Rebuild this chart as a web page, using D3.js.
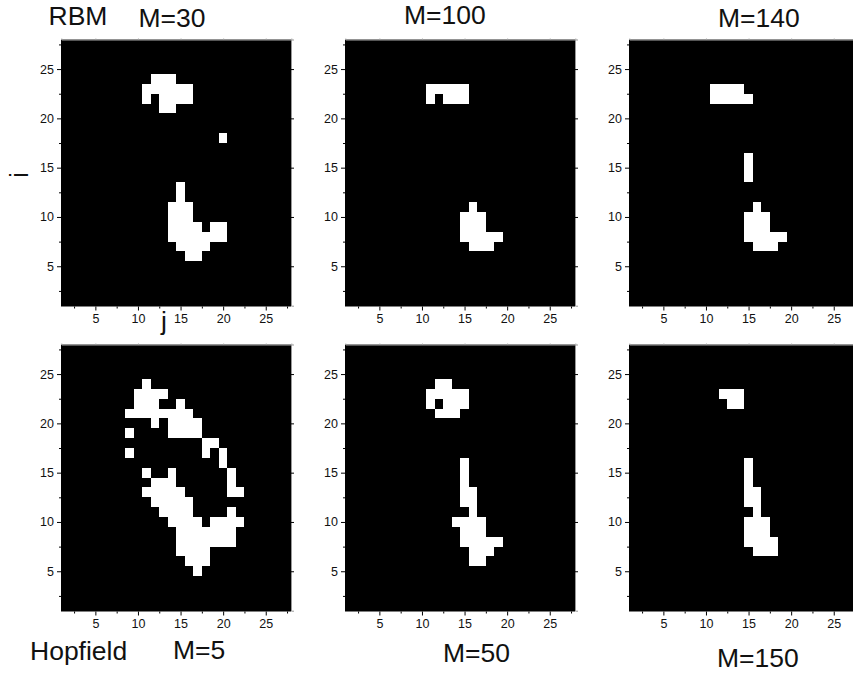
<!DOCTYPE html>
<html>
<head>
<meta charset="utf-8">
<script src="https://cdn.jsdelivr.net/npm/d3@7"></script>
<style>
  html, body { margin: 0; padding: 0; background: #fff; overflow: hidden; }
  text { font-family: "Liberation Sans", Arial, sans-serif; fill: #111; }
</style>
</head>
<body>
<svg id="chart" width="853" height="675"></svg>
<script>
// white cells, one run per row: [i, first j, last j]
const rbm30 = [
  [24,12,14],[23,11,16],[22,11,11],[22,13,16],[21,13,14],[18,20,20],
  [13,15,15],[12,15,15],[11,14,16],[10,14,16],[9,14,17],[9,19,20],
  [8,14,20],[7,15,18],[6,16,17]
];
const rbm100 = [
  [23,11,15],[22,11,11],[22,13,15],
  [11,16,16],[10,15,17],[9,15,17],[8,15,19],[7,16,18]
];
const rbm140 = [
  [23,11,14],[22,11,15],[16,15,15],[15,15,15],[14,15,15],
  [11,16,16],[10,15,17],[9,15,17],[8,15,19],[7,16,18]
];
const hopfield5 = [
  [24,11,11],[23,10,13],[22,10,12],[22,15,15],[21,9,16],[20,12,12],[20,14,17],
  [19,9,9],[19,14,17],[18,18,19],[17,9,9],[17,18,18],[17,20,20],[16,20,20],
  [15,11,11],[15,14,14],[15,21,21],[14,12,14],[14,21,21],[13,11,15],[13,21,22],
  [12,12,16],[11,13,16],[11,21,21],[10,14,17],[10,19,22],[9,15,21],[8,15,21],
  [7,15,18],[6,16,18],[5,17,17]
];
const hopfield50 = [
  [24,12,13],[23,11,15],[22,11,11],[22,13,15],[21,12,14],
  [16,15,15],[15,15,15],[14,15,15],[13,15,16],[12,15,16],[11,16,16],
  [10,14,17],[9,15,17],[8,15,19],[7,16,18],[6,16,17]
];
const hopfield150 = [
  [23,12,14],[22,13,14],[16,15,15],[15,15,15],[14,15,15],[13,15,16],[12,15,16],
  [11,16,16],[10,15,17],[9,15,17],[8,15,18],[7,16,18]
];

const majorTicks = [5, 10, 15, 20, 25];
const minorTicks = [2.5, 7.5, 12.5, 17.5, 22.5, 27.5];
const domain = [1, 28];

// text labels: [string, x, baseline y]
const labels = [
  ["RBM", 48.5, 25], ["M=30", 138.5, 27], ["M=100", 404, 24], ["M=140", 718, 27],
  ["Hopfield", 30, 660], ["M=5", 173, 659], ["M=50", 443, 662], ["M=150", 717, 667]
];

const svg = d3.select("#chart");

const panelWidth = 230;
const panelHeight = 267;
const columns = [61, 345, 629];
const rows = [39.5, 344.5];

const panels = [
  { runs: rbm30, col: 0, row: 0 },
  { runs: rbm100, col: 1, row: 0 },
  { runs: rbm140, col: 2, row: 0 },
  { runs: hopfield5, col: 0, row: 1 },
  { runs: hopfield50, col: 1, row: 1 },
  { runs: hopfield150, col: 2, row: 1 }
];

const x = d3.scaleLinear().domain(domain).range([0.3, panelWidth + 0.3]);
const y = d3.scaleLinear().domain(domain).range([panelHeight - 0.8, 0]);

function expand(runs) {
  const cells = [];
  runs.forEach(([i, from, to]) => {
    d3.range(from, to + 1).forEach(j => cells.push({ i, j }));
  });
  return cells;
}

panels.forEach(p => {
  const g = svg.append("g")
    .attr("transform", `translate(${columns[p.col]},${rows[p.row]})`);

  g.append("rect")
    .attr("width", panelWidth)
    .attr("height", panelHeight)
    .attr("fill", "#000");

  g.selectAll(".cell")
    .data(expand(p.runs))
    .enter()
    .append("rect")
      .attr("class", "cell")
      .attr("x", d => x(d.j - 0.5))
      .attr("y", d => y(d.i + 0.5))
      .attr("width", d => x(d.j + 0.5) - x(d.j - 0.5))
      .attr("height", d => y(d.i - 0.5) - y(d.i + 0.5))
      .attr("fill", "#fff")
      .attr("shape-rendering", "crispEdges");

  // labelled axes
  const bottom = g.append("g")
    .attr("transform", `translate(0,${panelHeight})`)
    .call(d3.axisBottom(x).tickValues(majorTicks).tickSize(4).tickPadding(4));
  const left = g.append("g")
    .call(d3.axisLeft(y).tickValues(majorTicks).tickSize(4).tickPadding(3));

  // minor ticks
  g.append("g")
    .attr("transform", `translate(0,${panelHeight})`)
    .call(d3.axisBottom(x).tickValues(minorTicks).tickSize(2).tickFormat(""));
  g.append("g")
    .call(d3.axisLeft(y).tickValues(minorTicks).tickSize(2).tickFormat(""));

  // mirrored grey frame on top and right
  const top = g.append("g")
    .call(d3.axisTop(x).tickValues(majorTicks).tickSize(1).tickFormat(""));
  const right = g.append("g")
    .attr("transform", `translate(${panelWidth},0)`)
    .call(d3.axisRight(y).tickValues(majorTicks).tickSize(3).tickFormat(""));

  g.selectAll("g > .domain").attr("stroke", "none");
  top.select(".domain").attr("stroke", "#aaa").attr("stroke-width", 1);
  right.select(".domain").attr("stroke", "#999").attr("stroke-width", 1);
  top.selectAll(".tick line").attr("stroke", "#aaa");

  bottom.selectAll("text").style("font-size", "12.5px").attr("fill", "#111");
  left.selectAll("text").style("font-size", "12.5px").attr("fill", "#111");
});

svg.selectAll(".label")
  .data(labels)
  .enter()
  .append("text")
    .attr("class", "label")
    .attr("x", d => d[1])
    .attr("y", d => d[2])
    .style("font-size", "26.5px")
    .text(d => d[0]);

// axis letters
svg.append("text")
  .attr("x", 164)
  .attr("y", 330)
  .attr("text-anchor", "middle")
  .style("font-size", "26.5px")
  .text("j");

svg.append("text")
  .attr("transform", "translate(28,175) rotate(-90)")
  .attr("text-anchor", "middle")
  .style("font-size", "25px")
  .text("i");
</script>
</body>
</html>
